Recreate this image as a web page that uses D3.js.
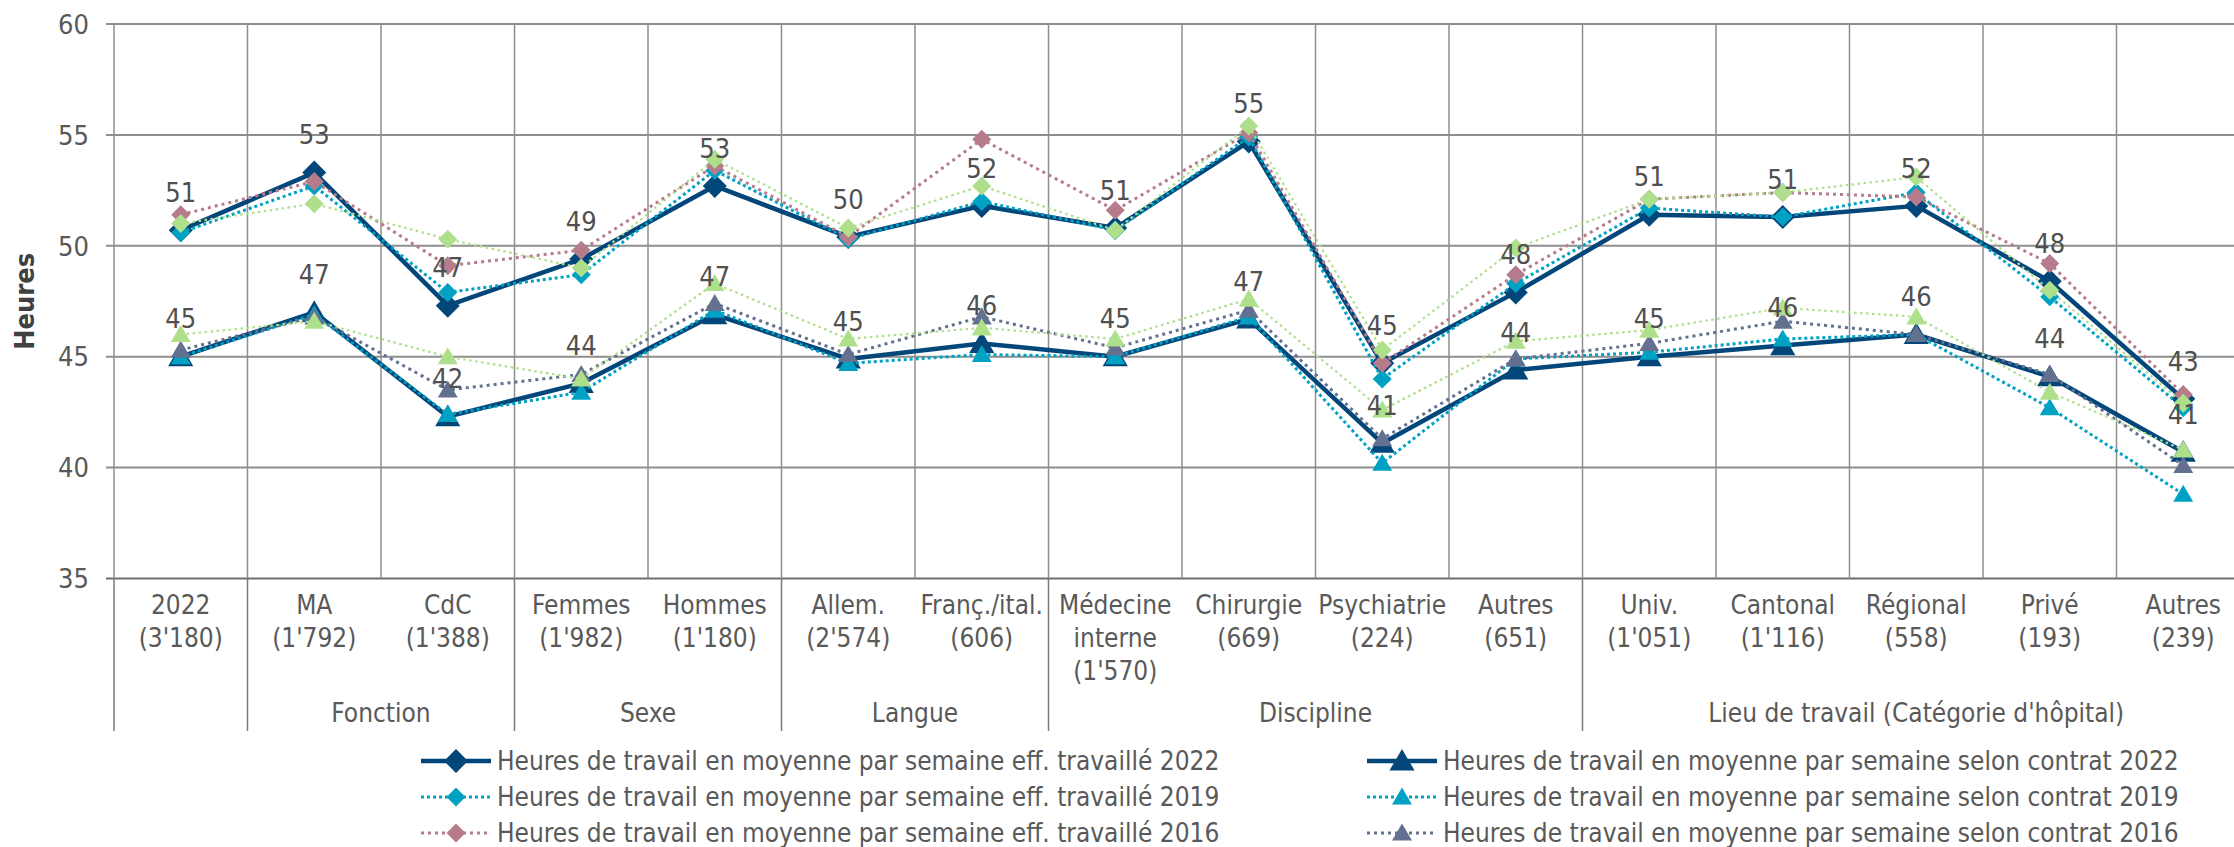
<!DOCTYPE html>
<html>
<head>
<meta charset="utf-8">
<script src="https://cdn.jsdelivr.net/npm/d3@7"></script>
<style>
  body { margin: 0; background: #fff; }
  text { font-family: "DejaVu Sans Condensed", "DejaVu Sans", sans-serif; fill: #595959; }
</style>
</head>
<body>
<svg id="chart" width="2234" height="847"></svg>
<script>
// categories (multi-line labels) and their groups
const categories = ['2022|(3\'180)', 'MA|(1\'792)', 'CdC|(1\'388)', 'Femmes|(1\'982)', 'Hommes|(1\'180)',
    'Allem.|(2\'574)', 'Franç./ital.|(606)', 'Médecine|interne|(1\'570)', 'Chirurgie|(669)', 'Psychiatrie|(224)',
    'Autres|(651)', 'Univ.|(1\'051)', 'Cantonal|(1\'116)', 'Régional|(558)', 'Privé|(193)', 'Autres|(239)'];
const groups = [
    { name: '', from: 0, to: 0 },
    { name: 'Fonction', from: 1, to: 2 },
    { name: 'Sexe', from: 3, to: 4 },
    { name: 'Langue', from: 5, to: 6 },
    { name: 'Discipline', from: 7, to: 10 },
    { name: 'Lieu de travail (Catégorie d\'hôpital)', from: 11, to: 15 }
];
const yTicks = [35, 40, 45, 50, 55, 60];

// heures effectivement travaillées
const eff2022 = [50.7, 53.3, 47.3, 49.4, 52.7, 50.4, 51.8, 50.8, 54.7, 44.7, 47.9, 51.4, 51.3, 51.8, 48.4, 43.1];
const eff2019 = [50.6, 52.7, 47.9, 48.7, 53.4, 50.3, 52.0, 50.7, 54.9, 44.0, 48.3, 51.7, 51.3, 52.4, 47.7, 42.7];
const eff2016 = [51.4, 52.9, 49.1, 49.8, 53.6, 50.4, 54.8, 51.6, 55.1, 44.7, 48.7, 52.1, 52.4, 52.2, 49.2, 43.3];
const effOld = [51.0, 51.9, 50.3, 49.0, 53.9, 50.8, 52.7, 50.7, 55.4, 45.3, 49.9, 52.1, 52.4, 53.1, 48.0, 42.9];
// heures selon contrat
const con2022 = [45.0, 47.0, 42.3, 43.8, 46.9, 44.9, 45.6, 45.0, 46.7, 41.1, 44.4, 45.0, 45.5, 46.0, 44.1, 40.7];
const con2019 = [45.0, 46.9, 42.4, 43.4, 47.1, 44.7, 45.1, 45.0, 46.8, 40.2, 44.9, 45.2, 45.8, 46.0, 42.7, 38.8];
const con2016 = [45.3, 46.8, 43.5, 44.2, 47.4, 45.1, 46.8, 45.4, 47.1, 41.3, 44.9, 45.6, 46.6, 46.0, 44.2, 40.1];
const conOld = [46.0, 46.6, 45.0, 44.0, 48.3, 45.8, 46.3, 45.8, 47.6, 42.6, 45.7, 46.2, 47.2, 46.8, 43.4, 40.8];

const series = [
    { name: 'Heures de travail en moyenne par semaine eff. travaillé 2022', values: eff2022, color: '#03467a', width: 4.5, dash: null, shape: 'diamond', size: 12, labels: true, legend: [0, 0] },
    { name: 'Heures de travail en moyenne par semaine selon contrat 2022', values: con2022, color: '#03467a', width: 4.5, dash: null, shape: 'triangle', size: 12, labels: true, legend: [1, 0] },
    { name: 'Heures de travail en moyenne par semaine eff. travaillé 2019', values: eff2019, color: '#00a2c4', width: 3, dash: '3 3', shape: 'diamond', size: 9.5, legend: [0, 1] },
    { name: 'Heures de travail en moyenne par semaine selon contrat 2019', values: con2019, color: '#00a2c4', width: 3, dash: '3 3', shape: 'triangle', size: 9.5, legend: [1, 1] },
    { name: 'Heures de travail en moyenne par semaine eff. travaillé 2016', values: eff2016, color: '#b77c8b', width: 3, dash: '3 4', shape: 'diamond', size: 9.5, legend: [0, 2] },
    { name: 'Heures de travail en moyenne par semaine selon contrat 2016', values: con2016, color: '#63708f', width: 3, dash: '3 4', shape: 'triangle', size: 9.5, legend: [1, 2] },
    { name: 'eff. old', values: effOld, color: '#aedf8b', width: 2.2, dash: '2.5 3.5', shape: 'diamond', size: 9.5 },
    { name: 'contrat old', values: conOld, color: '#aedf8b', width: 2.2, dash: '2.5 3.5', shape: 'triangle', size: 9.5 }
];

const svg = d3.select('#chart');
const plotLeft = 114, plotTop = 24, plotBottom = 578.5, step = 133.5;

const x = d3.scaleBand()
    .domain(d3.range(categories.length))
    .range([plotLeft, plotLeft + step * categories.length]);
const y = d3.scaleLinear().domain([35, 60]).range([plotBottom, plotTop]);

const gridColor = '#8e8e8e';

// horizontal gridlines + ticks
yTicks.forEach(t => {
    svg.append('line')
        .attr('x1', plotLeft - 8).attr('x2', 2234)
        .attr('y1', y(t)).attr('y2', y(t))
        .attr('stroke', t === 35 ? '#6f6f6f' : gridColor).attr('stroke-width', 2);
    svg.append('text')
        .attr('x', 89).attr('y', y(t)).attr('dy', '0.36em')
        .attr('text-anchor', 'end').attr('font-size', 27)
        .text(t);
});

// vertical gridlines at every category boundary
d3.range(categories.length + 1).forEach(i => {
    const xx = plotLeft + i * step;
    svg.append('line')
        .attr('x1', xx).attr('x2', xx).attr('y1', plotTop).attr('y2', plotBottom)
        .attr('stroke', gridColor).attr('stroke-width', 1.5);
});

// group separators under the axis
const sepIdx = [0].concat(groups.map(g => g.to + 1));
sepIdx.forEach(i => {
    const xx = i === 0 ? plotLeft : x(i - 1) + x.bandwidth();
    svg.append('line')
        .attr('x1', xx).attr('x2', xx).attr('y1', plotBottom).attr('y2', 731)
        .attr('stroke', '#7a7a7a').attr('stroke-width', 1.5);
});

// category labels
categories.forEach((c, i) => {
    const t = svg.append('text')
        .attr('x', x(i) + x.bandwidth() / 2).attr('y', 614)
        .attr('text-anchor', 'middle').attr('font-size', 26);
    c.split('|').forEach((line, k) => {
        t.append('tspan').attr('x', x(i) + x.bandwidth() / 2).attr('dy', k === 0 ? 0 : 33).text(line);
    });
});

// group labels
groups.filter(g => g.name).forEach(g => {
    const cx = (x(g.from) + x(g.to) + x.bandwidth()) / 2;
    svg.append('text')
        .attr('x', cx).attr('y', 722)
        .attr('text-anchor', 'middle').attr('font-size', 26)
        .text(g.name);
});

// y title
svg.append('text')
    .attr('transform', `translate(34,${(plotTop + plotBottom) / 2}) rotate(-90)`)
    .attr('text-anchor', 'middle').attr('font-size', 27).attr('font-weight', 'bold')
    .style('fill', '#404040')
    .text('Heures');

function markerPath(shape, r) {
    if (shape === 'diamond') return `M0,${-r}L${r},0L0,${r}L${-r},0Z`;
    return `M0,${-r}L${r * 1.05},${r * 0.8}L${-r * 1.05},${r * 0.8}Z`;
}

const line = d3.line()
    .x((d, i) => x(i) + x.bandwidth() / 2)
    .y(d => y(d));

// draw series
series.forEach(s => {
    const g = svg.append('g');
    g.append('path')
        .datum(s.values)
        .attr('d', line)
        .attr('fill', 'none')
        .attr('stroke', s.color)
        .attr('stroke-width', s.width)
        .attr('stroke-dasharray', s.dash)
        .attr('stroke-linejoin', 'round');
    g.selectAll('path.m')
        .data(s.values)
        .join('path')
        .attr('class', 'm')
        .attr('d', markerPath(s.shape, s.size))
        .attr('transform', (d, i) => `translate(${x(i) + x.bandwidth() / 2},${y(d)})`)
        .attr('fill', s.color);
});

// data labels for 2022
series.filter(s => s.labels).forEach(s => {
    svg.append('g').selectAll('text')
        .data(s.values)
        .join('text')
        .attr('x', (d, i) => x(i) + x.bandwidth() / 2)
        .attr('y', d => y(d) - 38)
        .attr('dy', '0.36em')
        .attr('text-anchor', 'middle')
        .attr('font-size', 27)
        .style('fill', '#505050')
        .text(d => Math.round(d));
});

// legend
const legX = [421, 1367], legY = [761, 797, 833];
series.filter(s => s.legend).forEach(s => {
    const lx = legX[s.legend[0]], ly = legY[s.legend[1]];
    const g = svg.append('g').attr('transform', `translate(${lx},${ly})`);
    g.append('line')
        .attr('x1', 0).attr('x2', 70)
        .attr('stroke', s.color).attr('stroke-width', s.width)
        .attr('stroke-dasharray', s.dash);
    g.append('path')
        .attr('d', markerPath(s.shape, s.size))
        .attr('transform', 'translate(35,0)')
        .attr('fill', s.color);
    g.append('text')
        .attr('x', 76).attr('dy', '0.36em')
        .attr('font-size', 26)
        .text(s.name);
});
</script>
</body>
</html>
